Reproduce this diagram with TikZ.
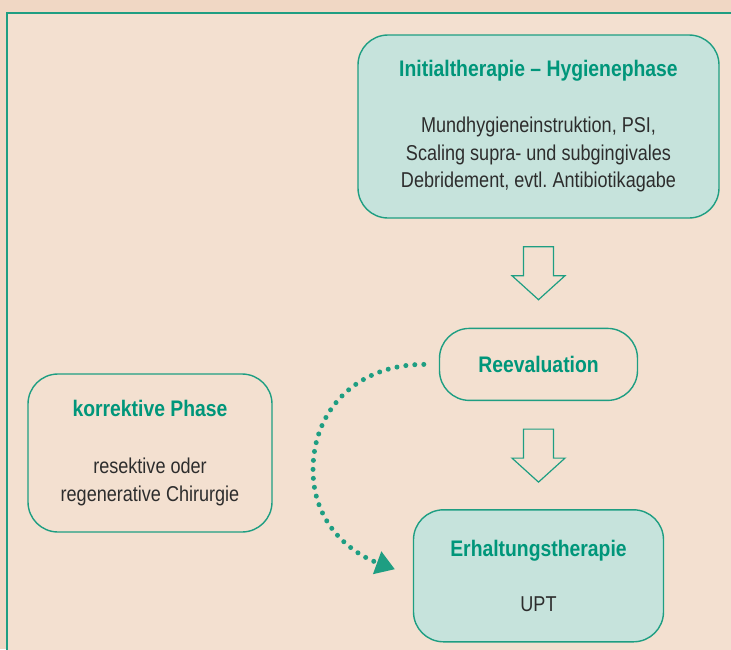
\documentclass[tikz,border=0pt]{standalone}
\usepackage{fontspec}
\setmainfont{Liberation Sans}[FakeStretch=0.86]
\newfontfamily\bodyfam{Liberation Sans}[FakeStretch=0.84]
\usetikzlibrary{arrows.meta,positioning,calc}
\definecolor{bgout}{RGB}{240,215,196}
\definecolor{bgin}{RGB}{243,224,208}
\definecolor{tealline}{RGB}{30,158,130}
\definecolor{tealtext}{RGB}{0,150,122}
\definecolor{tealfill}{RGB}{198,227,220}
\definecolor{bodytext}{RGB}{45,45,45}
\newcommand{\titlefont}{\fontsize{22.5}{27}\selectfont\rmfamily\bfseries\color{tealtext}}
\newcommand{\bodyfont}{\fontsize{21.5}{27.7}\selectfont\bodyfam\color{bodytext}}
\frenchspacing
\tikzset{hollow arrow/.pic={\draw[tealline, line width=1.2pt, fill=bgin] (-15,0) -- (15,0) -- (15,-29) -- (26.5,-29) -- (0,-53) -- (-26.5,-29) -- (-15,-29) -- cycle;}}
\begin{document}
\begin{tikzpicture}[x=1pt,y=1pt,phasebox/.style={rectangle, rounded corners=30pt, draw=tealline, line width=1.4pt, fill=tealfill, align=center, inner sep=0pt, font=\bodyfont},plainbox/.style={phasebox, fill=bgin},dotlink/.style={tealline, line width=5pt, line cap=round, dash pattern=on 0pt off 9pt, -{Triangle[length=19pt,width=23pt]}, shorten <=15pt, shorten >=19pt}]
            \clip (0,0) rectangle (731,-649);
            \useasboundingbox (0,0) rectangle (731,-649);
            \fill[bgout] (0,0) rectangle (731,-649);
            \draw[tealline, line width=1.6pt, fill=bgin] (7,-13) rectangle (745,-665);
            \node[phasebox, minimum width=361pt, minimum height=183pt] (init) at (538.5,-126.5) {{\titlefont Initialtherapie – Hygienephase}\\[28pt]Mundhygieneinstruktion, PSI,\\Scaling supra- und subgingivales\\Debridement, evtl. Antibiotikagabe};
            \node[plainbox, minimum width=198pt, minimum height=72pt, below=109pt of init] (reeval) {\titlefont Reevaluation};
            \node[phasebox, minimum width=250pt, minimum height=132pt, below=108pt of reeval] (erhalt) {{\titlefont Erhaltungstherapie}\\[28pt]UPT};
            \node[plainbox, minimum width=244pt, minimum height=158pt] (korr) at (150,-453) {{\titlefont korrektive Phase}\\[29pt]resektive oder\\regenerative Chirurgie};
            \pic at ($(init.south)+(0,-28)$) {hollow arrow};
            \pic at ($(reeval.south)+(0,-28)$) {hollow arrow};
            \draw[dotlink] (reeval.west) .. controls +(-80,0) and +(0,62) .. (313,-470) .. controls +(0,-55) and +(-60,22) .. (erhalt.west);
        \end{tikzpicture}
\end{document}
